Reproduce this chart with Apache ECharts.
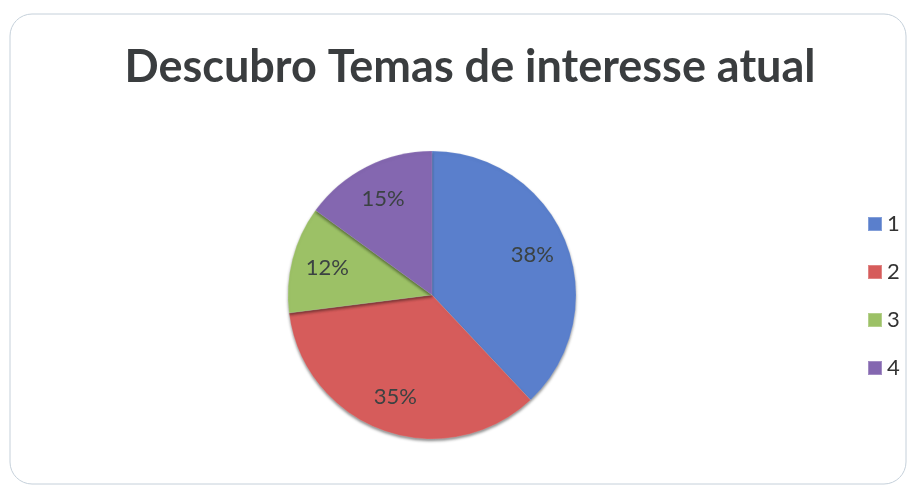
<!DOCTYPE html>
<html>
<head>
<meta charset="utf-8">
<script src="https://cdn.jsdelivr.net/npm/echarts@6/dist/echarts.min.js"></script>
<style>
  html, body { margin: 0; padding: 0; background: #fff; }
  #chart { width: 914px; height: 490px; }
</style>
</head>
<body>
<div id="chart"></div>
<script>
// dados
const categories = ['1', '2', '3', '4'];
const values = [38, 35, 12, 15];
const colors = ['#5a7fcc', '#d65c5b', '#9cc166', '#8467b0'];

const chart = echarts.init(document.getElementById('chart'));

const pieData = categories.map((name, i) => ({
  name: name,
  value: values[i],
  itemStyle: { color: colors[i] }
}));

const option = {
  animation: false,
  title: {
    text: 'Descubro Temas de interesse atual',
    left: 465,
    textAlign: 'center',
    top: 40,
    textStyle: {
      fontFamily: 'Lato',
      fontWeight: 'bold',
      fontSize: 45,
      color: '#3a3d3f'
    }
  },
  legend: {
    orient: 'vertical',
    left: 862,
    top: 208,
    itemWidth: 14,
    itemHeight: 14,
    itemGap: 26,
    icon: 'rect',
    data: categories,
    textStyle: { fontFamily: 'Lato', fontSize: 22, color: '#333' }
  },
  graphic: [
    {
      type: 'rect',
      shape: { x: 10, y: 14, width: 896, height: 470, r: 22 },
      style: { fill: 'none', stroke: '#c5d0da', lineWidth: 1 },
      silent: true
    }
  ],
  series: [
    {
      type: 'pie',
      center: [432, 295],
      radius: [0, 144],
      startAngle: 90,
      clockwise: true,
      label: { show: false },
      labelLine: { show: false },
      itemStyle: {
        borderColor: 'rgba(255,255,255,0.25)',
        borderWidth: 0.5,
        shadowBlur: 3,
        shadowOffsetY: 2,
        shadowColor: 'rgba(0,0,0,0.45)'
      },
      data: pieData
    },
    {
      // anel transparente só para posicionar os rótulos mais perto da borda
      type: 'pie',
      silent: true,
      center: [432, 295],
      radius: [66, 144],
      startAngle: 90,
      clockwise: true,
      itemStyle: { color: 'transparent' },
      label: {
        show: true,
        position: 'inside',
        formatter: '{c}%',
        fontFamily: 'Lato',
        fontSize: 22,
        color: '#3b4242'
      },
      labelLine: { show: false },
      data: categories.map((name, i) => ({ name: name, value: values[i] }))
    }
  ]
};

chart.setOption(option);
</script>
</body>
</html>
